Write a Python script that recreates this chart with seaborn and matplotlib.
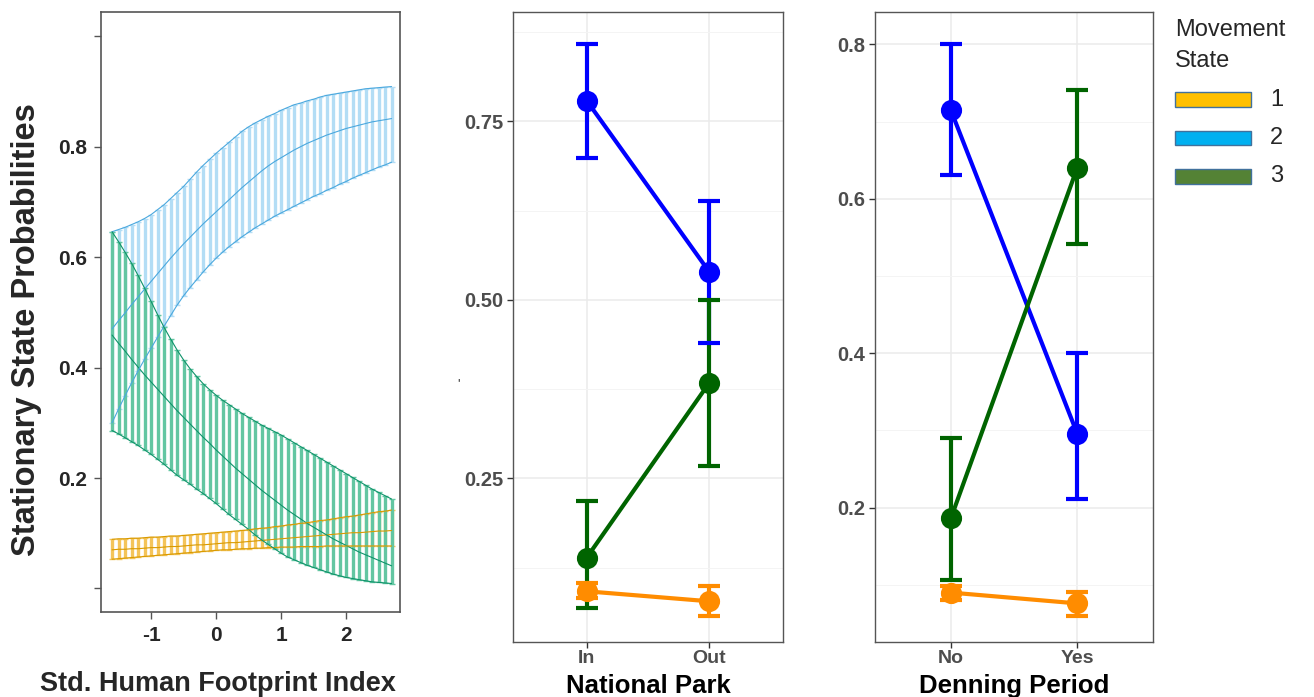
import numpy as np
import pandas as pd
import matplotlib
matplotlib.use("Agg")
import matplotlib.pyplot as plt
from matplotlib.patches import Rectangle
import seaborn as sns

# ---------------- data: left panel (Std. Human Footprint Index) ----------------
hfi = [-1.6, -1.5, -1.4, -1.3, -1.2, -1.1, -1.0, -0.9, -0.8, -0.7, -0.6, -0.5,
       -0.4, -0.3, -0.2, -0.1, 0.0, 0.1, 0.2, 0.3, 0.4, 0.5, 0.6, 0.7, 0.8, 0.9,
       1.0, 1.1, 1.2, 1.3, 1.4, 1.5, 1.6, 1.7, 1.8, 1.9, 2.0, 2.1, 2.2, 2.3, 2.4,
       2.5, 2.6, 2.7]

s1_mean = [0.070, 0.071, 0.071, 0.072, 0.072, 0.073, 0.074, 0.074, 0.075, 0.076, 0.076, 0.077,
           0.078, 0.079, 0.079, 0.080, 0.081, 0.082, 0.083, 0.083, 0.084, 0.085, 0.086, 0.087,
           0.088, 0.089, 0.090, 0.091, 0.092, 0.093, 0.094, 0.095, 0.096, 0.097, 0.098, 0.099,
           0.100, 0.101, 0.101, 0.102, 0.103, 0.104, 0.104, 0.105]
s1_lo = [0.053, 0.054, 0.055, 0.056, 0.057, 0.058, 0.059, 0.060, 0.061, 0.062, 0.063, 0.064,
         0.065, 0.066, 0.067, 0.068, 0.069, 0.070, 0.070, 0.071, 0.072, 0.072, 0.073, 0.073,
         0.074, 0.074, 0.075, 0.075, 0.075, 0.076, 0.076, 0.076, 0.076, 0.077, 0.077, 0.077,
         0.077, 0.077, 0.077, 0.077, 0.077, 0.077, 0.077, 0.077]
s1_hi = [0.089, 0.090, 0.090, 0.091, 0.091, 0.092, 0.093, 0.093, 0.094, 0.095, 0.095, 0.096,
         0.097, 0.098, 0.099, 0.100, 0.101, 0.102, 0.103, 0.104, 0.105, 0.106, 0.108, 0.109,
         0.110, 0.112, 0.113, 0.115, 0.116, 0.118, 0.119, 0.121, 0.123, 0.124, 0.126, 0.128,
         0.130, 0.131, 0.133, 0.135, 0.137, 0.139, 0.140, 0.142]

s2_mean = [0.470, 0.485, 0.499, 0.514, 0.528, 0.542, 0.556, 0.570, 0.584, 0.598, 0.611, 0.624,
           0.636, 0.648, 0.660, 0.671, 0.682, 0.693, 0.704, 0.715, 0.726, 0.736, 0.746, 0.756,
           0.765, 0.773, 0.780, 0.787, 0.794, 0.800, 0.806, 0.811, 0.816, 0.821, 0.825, 0.829,
           0.833, 0.836, 0.839, 0.842, 0.845, 0.847, 0.849, 0.851]
s2_lo = [0.300, 0.325, 0.349, 0.372, 0.394, 0.415, 0.435, 0.455, 0.475, 0.494, 0.513, 0.530,
         0.545, 0.559, 0.573, 0.586, 0.598, 0.609, 0.619, 0.628, 0.637, 0.645, 0.653, 0.660,
         0.667, 0.674, 0.680, 0.686, 0.692, 0.698, 0.704, 0.710, 0.715, 0.721, 0.726, 0.732,
         0.737, 0.743, 0.748, 0.753, 0.758, 0.763, 0.767, 0.772]
s2_hi = [0.646, 0.650, 0.654, 0.659, 0.664, 0.670, 0.677, 0.686, 0.695, 0.706, 0.717, 0.728,
         0.741, 0.754, 0.766, 0.777, 0.788, 0.798, 0.808, 0.818, 0.828, 0.836, 0.843, 0.849,
         0.855, 0.860, 0.866, 0.871, 0.876, 0.879, 0.883, 0.886, 0.890, 0.893, 0.895, 0.897,
         0.899, 0.901, 0.903, 0.905, 0.906, 0.907, 0.908, 0.909]

s3_mean = [0.459, 0.444, 0.430, 0.415, 0.401, 0.387, 0.374, 0.361, 0.348, 0.335, 0.322, 0.310,
           0.298, 0.286, 0.274, 0.263, 0.251, 0.240, 0.229, 0.218, 0.208, 0.198, 0.188, 0.178,
           0.169, 0.160, 0.151, 0.142, 0.134, 0.126, 0.118, 0.111, 0.104, 0.097, 0.090, 0.084,
           0.078, 0.072, 0.066, 0.061, 0.056, 0.051, 0.046, 0.041]
s3_lo = [0.286, 0.280, 0.273, 0.266, 0.259, 0.251, 0.243, 0.234, 0.225, 0.215, 0.205, 0.197,
         0.189, 0.180, 0.172, 0.163, 0.154, 0.144, 0.134, 0.125, 0.116, 0.107, 0.097, 0.088,
         0.080, 0.072, 0.064, 0.057, 0.052, 0.047, 0.042, 0.038, 0.034, 0.030, 0.026, 0.023,
         0.020, 0.018, 0.016, 0.014, 0.012, 0.011, 0.010, 0.009]
s3_hi = [0.646, 0.628, 0.609, 0.589, 0.567, 0.544, 0.520, 0.496, 0.473, 0.452, 0.432, 0.414,
         0.398, 0.384, 0.371, 0.360, 0.350, 0.341, 0.333, 0.325, 0.317, 0.310, 0.303, 0.296,
         0.290, 0.284, 0.278, 0.271, 0.264, 0.257, 0.250, 0.243, 0.236, 0.229, 0.222, 0.215,
         0.208, 0.201, 0.194, 0.187, 0.180, 0.174, 0.168, 0.162]

# ---------------- data: National Park panel ----------------
park_cats = ["In", "Out"]
park_mean_1 = [0.092, 0.078]
park_lo_1 = [0.083, 0.058]
park_hi_1 = [0.103, 0.099]
park_mean_2 = [0.779, 0.539]
park_lo_2 = [0.699, 0.439]
park_hi_2 = [0.858, 0.639]
park_mean_3 = [0.139, 0.384]
park_lo_3 = [0.068, 0.268]
park_hi_3 = [0.219, 0.500]

# ---------------- data: Denning Period panel ----------------
den_cats = ["No", "Yes"]
den_mean_1 = [0.090, 0.076]
den_lo_1 = [0.080, 0.060]
den_hi_1 = [0.099, 0.091]
den_mean_2 = [0.715, 0.296]
den_lo_2 = [0.631, 0.211]
den_hi_2 = [0.800, 0.400]
den_mean_3 = [0.186, 0.640]
den_lo_3 = [0.106, 0.541]
den_hi_3 = [0.290, 0.741]

states = ["1", "2", "3"]
legend_colors = ["#FFC000", "#00B0F0", "#548235"]
left_bar_colors = ["#F4C45A", "#B3DDF5", "#63C6A2"]
left_line_colors = ["#D99A00", "#4AA8DE", "#0E936A"]
pt_colors = ["#FF8C00", "#0000FF", "#006400"]

# ---------------- style ----------------
sns.set_style("white")
plt.rcParams["font.family"] = ["Liberation Sans", "DejaVu Sans"]

W, H = 1314, 697
fig = plt.figure(figsize=(W / 100, H / 100), dpi=100)


def fbox(x0, y0, x1, y1):
    return [x0 / W, 1 - y1 / H, (x1 - x0) / W, (y1 - y0) / H]


# ---------------- left panel ----------------
axL = fig.add_axes(fbox(101, 12, 400, 612))
left_df = pd.concat([
    pd.DataFrame({"x": hfi, "mean": m, "lo": lo, "hi": hi, "state": s})
    for s, m, lo, hi in [("1", s1_mean, s1_lo, s1_hi),
                         ("2", s2_mean, s2_lo, s2_hi),
                         ("3", s3_mean, s3_lo, s3_hi)]
], ignore_index=True)

for i, s in enumerate(states):
    d = left_df[left_df["state"] == s]
    axL.errorbar(d["x"], d["mean"], yerr=[d["mean"] - d["lo"], d["hi"] - d["mean"]],
                 fmt="none", ecolor=left_bar_colors[i], elinewidth=2.4,
                 capsize=2.2, capthick=1.0, zorder=2 + i)
for col in ["mean", "lo", "hi"]:
    sns.lineplot(data=left_df, x="x", y=col, hue="state", hue_order=states,
                 palette=left_line_colors, linewidth=0.8, legend=False, ax=axL, zorder=6)

axL.set_xlim(-1.77, 2.83)
axL.set_ylim(-0.0426, 1.044)
axL.set_xticks([-1, 0, 1, 2])
axL.set_xticklabels(["-1", "0", "1", "2"])
axL.set_yticks([0.0, 0.2, 0.4, 0.6, 0.8, 1.0])
axL.set_yticklabels(["", "0.2", "0.4", "0.6", "0.8", ""])
axL.tick_params(axis="both", direction="out", length=5, width=1, color="#555555",
                labelsize=15, pad=5, left=True, bottom=True)
for lab in axL.get_xticklabels() + axL.get_yticklabels():
    lab.set_fontweight("bold")
for sp in axL.spines.values():
    sp.set_color("#555555")
    sp.set_linewidth(1.2)
axL.set_xlabel("Std. Human Footprint Index", fontsize=19.5, fontweight="bold")
axL.xaxis.set_label_coords(0.39, -0.12)
axL.xaxis.label.set_va("center")
axL.set_ylabel("Stationary State Probabilities", fontsize=23.5, fontweight="bold")
axL.yaxis.set_label_coords(-0.25, 0.47)
axL.yaxis.label.set_va("center")


# ---------------- point panels ----------------
def point_panel(ax, cats, means, los, his, ylim, majors, minors, xlabel, labels):
    rows = []
    for s, m in zip(states, means):
        for c, v in zip(cats, m):
            rows.append({"cat": c, "state": s, "val": v})
    df = pd.DataFrame(rows)
    pos = np.arange(len(cats))
    for i, (m, lo, hi) in enumerate(zip(means, los, his)):
        m = np.array(m)
        ax.errorbar(pos, m, yerr=[m - np.array(lo), np.array(hi) - m], fmt="none",
                    ecolor=pt_colors[i], elinewidth=3, capsize=8, capthick=3, zorder=3 + i)
    sns.pointplot(data=df, x="cat", y="val", hue="state", order=cats, hue_order=states,
                  palette=pt_colors, errorbar=None, markers="o", markersize=13,
                  linewidth=3, legend=False, ax=ax)
    for ln in ax.lines:
        ln.set_zorder(6)
    ax.set_xlim(-0.6, len(cats) - 0.4)
    ax.set_ylim(*ylim)
    ax.set_yticks(majors)
    ax.set_yticklabels(labels)
    ax.set_yticks(minors, minor=True)
    ax.grid(which="major", axis="both", color="#EBEBEB", linewidth=1.1, zorder=0)
    ax.grid(which="minor", axis="y", color="#F4F4F4", linewidth=0.7, zorder=0)
    ax.set_axisbelow(True)
    ax.tick_params(axis="both", which="major", direction="out", length=4, width=1,
                   color="#333333", labelcolor="#4D4D4D", labelsize=14.5, pad=3,
                   left=True, bottom=True)
    ax.tick_params(axis="x", which="major", labelsize=14, pad=2)
    ax.tick_params(axis="y", which="minor", length=0)
    for lab in ax.get_xticklabels() + ax.get_yticklabels():
        lab.set_fontweight("bold")
    for sp in ax.spines.values():
        sp.set_color("#555555")
        sp.set_linewidth(1.0)
    ax.set_xlabel(xlabel, fontsize=18.5, fontweight="bold", color="black")
    ax.xaxis.set_label_coords(0.5, -0.0695)
    ax.xaxis.label.set_va("center")


axM = fig.add_axes(fbox(513, 12, 783, 642))
point_panel(axM, park_cats,
            [park_mean_1, park_mean_2, park_mean_3],
            [park_lo_1, park_lo_2, park_lo_3],
            [park_hi_1, park_hi_2, park_hi_3],
            (0.021, 0.903), [0.25, 0.50, 0.75], [0.125, 0.375, 0.625, 0.875],
            "National Park", ["0.25", "0.50", "0.75"])
axM.set_ylabel("'", fontsize=9, rotation=0)
axM.yaxis.set_label_coords(-0.2, 0.4)

axR = fig.add_axes(fbox(875, 12, 1153, 642))
point_panel(axR, den_cats,
            [den_mean_1, den_mean_2, den_mean_3],
            [den_lo_1, den_lo_2, den_lo_3],
            [den_hi_1, den_hi_2, den_hi_3],
            (0.026, 0.842), [0.2, 0.4, 0.6, 0.8], [0.1, 0.3, 0.5, 0.7],
            "Denning Period", ["0.2", "0.4", "0.6", "0.8"])
axR.set_ylabel("")

# ---------------- legend ----------------
fig.text(1175 / W, 1 - 30 / H, "Movement", fontsize=17, va="center", ha="left")
fig.text(1175 / W, 1 - 61 / H, "State", fontsize=17, va="center", ha="left")
for i, s in enumerate(states):
    yc = 99.5 + 38.5 * i
    fig.add_artist(Rectangle((1175 / W, 1 - (yc + 7) / H), 76 / W, 14 / H,
                             transform=fig.transFigure, facecolor=legend_colors[i],
                             edgecolor="#41719C", linewidth=1.0))
    fig.text(1270 / W, 1 - yc / H, s, fontsize=17, va="center", ha="left")

fig.savefig("out.png", dpi=100)
